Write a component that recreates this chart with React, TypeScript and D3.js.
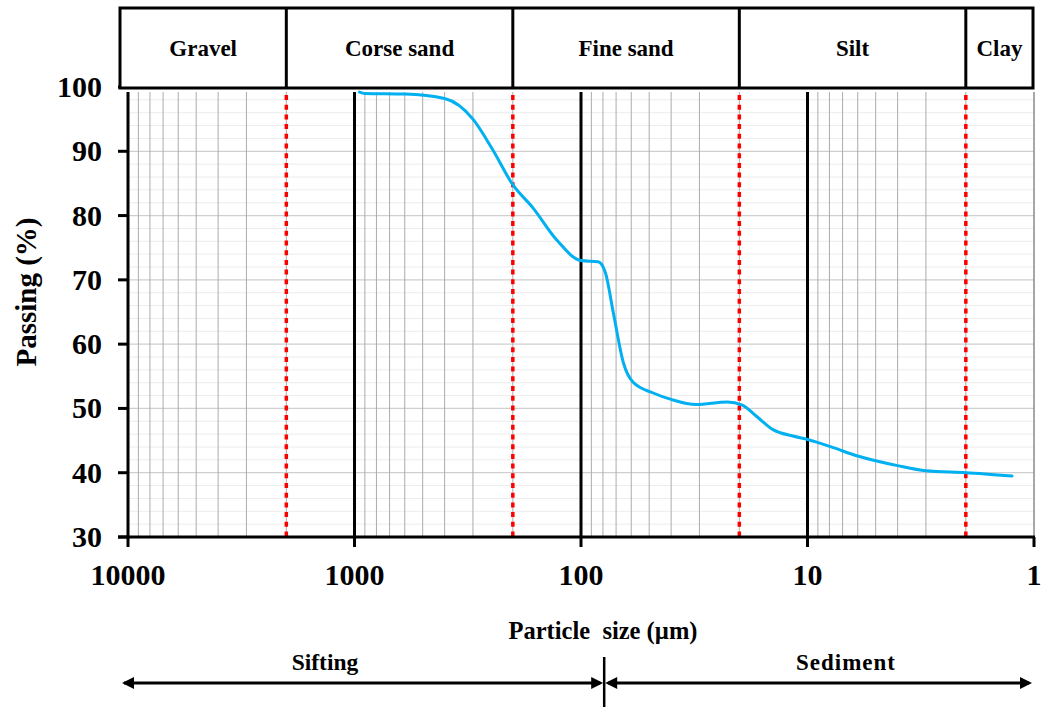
import React from "react";
import * as d3 from "d3";

// ---- data ----
const particleSize = [950, 900, 600, 400, 300, 245, 200, 163, 128, 100, 84, 78, 72, 65, 59, 48, 40, 31, 22.6, 19.4, 16.7, 14.2, 11.6, 9.8, 7.7, 6.0, 4.0, 3.0, 2.0, 1.25];
const passing = [99.2, 99.0, 98.9, 98.2, 95.0, 90.2, 84.8, 81.2, 76.2, 73.0, 72.8, 71.1, 64.9, 57.1, 54.1, 52.4, 51.4, 50.6, 51.0, 50.5, 48.7, 46.7, 45.7, 45.1, 43.9, 42.6, 41.1, 40.3, 40.0, 39.5];

const xTicks = [10000, 1000, 100, 10, 1];
const yTicks = [30, 40, 50, 60, 70, 80, 90, 100];
const classBounds = [10000, 2000, 200, 20, 2, 1];
const classNames = ["Gravel", "Corse sand", "Fine sand", "Silt", "Clay"];
const methodSplit = 79; // µm, sifting / sediment boundary
const methodNames = ["Sifting", "Sediment"];

const W = 1043;
const H = 707;
const FONT = "Liberation Serif, Times New Roman, Times, serif";

export default function App() {
  const x = d3.scaleLog().domain([10000, 1]).range([128, 1034]);
  const y = d3.scaleLinear().domain([30, 100]).range([537, 87]);
  const plotTop = 92;
  const x0 = x(10000);
  const x1 = x(1);
  const y0 = y(30);

  const minorX: number[] = [];
  for (let k = 0; k <= 3; k++) for (let m = 2; m <= 9; m++) minorX.push(m * Math.pow(10, k));
  const minorY: number[] = [];
  for (let v = 32; v < 100; v += 2) if (v % 10 !== 0) minorY.push(v);

  const pts = particleSize.map((d, i) => [x(d), y(passing[i])] as [number, number]);
  const line = d3.line().curve(d3.curveMonotoneX)(pts) || "";

  const boxTop = 8;
  const boxBot = 88;
  const boxLeft = 120;
  const boxRight = 1033;
  const divX = classBounds.slice(1, -1).map((v) => x(v));
  const edges = [boxLeft, ...divX, boxRight];

  const arrowY = 683;
  const splitX = x(methodSplit);
  const ah = 12;
  const aw = 6;
  const head = (tipX: number, dir: number) =>
    `M${tipX},${arrowY} L${tipX - dir * ah},${arrowY - aw} L${tipX - dir * ah},${arrowY + aw} Z`;

  return (
    <svg width={W} height={H} style={{ display: "block", position: "absolute", left: 0, top: 0 }}>
      <rect x={0} y={0} width={W} height={H} fill="#fff" />
      {/* horizontal grid */}
      {minorY.map((v) => (
        <line key={"my" + v} x1={x0} x2={x1} y1={y(v)} y2={y(v)} stroke="#ececec" strokeWidth={1} />
      ))}
      {yTicks.map((v) => (
        <line key={"gy" + v} x1={x0} x2={x1} y1={y(v)} y2={y(v)} stroke="#cfcfcf" strokeWidth={1.2} />
      ))}
      {/* vertical minor grid */}
      {minorX.map((v) => (
        <line key={"mx" + v} x1={x(v)} x2={x(v)} y1={plotTop} y2={y0} stroke="#ababab" strokeWidth={1} />
      ))}
      {/* major vertical */}
      {[1000, 100, 10].map((v) => (
        <line key={"gx" + v} x1={x(v)} x2={x(v)} y1={plotTop} y2={y0} stroke="#000" strokeWidth={3} />
      ))}
      <line x1={x1} x2={x1} y1={plotTop} y2={y0} stroke="#8a8a8a" strokeWidth={1.5} />
      {/* red dotted class boundaries */}
      {classBounds.slice(1, -1).map((v) => (
        <line key={"rd" + v} x1={x(v)} x2={x(v)} y1={95} y2={y0} stroke="#ff0000" strokeWidth={3.5} strokeDasharray="5,4.7" />
      ))}
      {/* curve */}
      <path d={line} fill="none" stroke="#00b0f0" strokeWidth={3} strokeLinecap="round" />
      {/* axes */}
      <line x1={x0} x2={x0} y1={plotTop} y2={y0 + 1.5} stroke="#000" strokeWidth={3} />
      <line x1={118} x2={x1 + 1} y1={y0} y2={y0} stroke="#000" strokeWidth={3} />
      {yTicks.map((v) => (
        <g key={"yt" + v}>
          <line x1={118} x2={x0} y1={y(v)} y2={y(v)} stroke="#000" strokeWidth={3} />
          <text x={102} y={y(v) + 10} textAnchor="end" fontFamily={FONT} fontWeight="bold" fontSize={30} fill="#000">
            {v}
          </text>
        </g>
      ))}
      {xTicks.map((v) => (
        <g key={"xt" + v}>
          <line x1={x(v)} x2={x(v)} y1={y0} y2={y0 + 10} stroke="#000" strokeWidth={3} />
          <text x={x(v)} y={585} textAnchor="middle" fontFamily={FONT} fontWeight="bold" fontSize={30} fill="#000">
            {d3.format("d")(v)}
          </text>
        </g>
      ))}
      {/* axis titles */}
      <text
        transform={`translate(36,292) rotate(-90)`}
        textAnchor="middle"
        fontFamily={FONT}
        fontWeight="bold"
        fontSize={29}
        fill="#000"
      >
        Passing (%)
      </text>
      <text x={603} y={639} textAnchor="middle" fontFamily={FONT} fontWeight="bold" fontSize={24.5} fill="#000" style={{ whiteSpace: "pre" }}>
        {"Particle  size (µm)"}
      </text>
      {/* class box */}
      <rect x={boxLeft} y={boxTop} width={boxRight - boxLeft} height={boxBot - boxTop} fill="#fff" stroke="#000" strokeWidth={3} />
      {divX.map((dx, i) => (
        <line key={"dv" + i} x1={dx} x2={dx} y1={boxTop} y2={boxBot} stroke="#000" strokeWidth={3} />
      ))}
      {classNames.map((n, i) => (
        <text
          key={n}
          x={(edges[i] + edges[i + 1]) / 2}
          y={56}
          textAnchor="middle"
          fontFamily={FONT}
          fontWeight="bold"
          fontSize={23}
          fill="#000"
        >
          {n}
        </text>
      ))}
      {/* method arrows */}
      <line x1={boxLeft + 4} x2={splitX - 4} y1={arrowY} y2={arrowY} stroke="#000" strokeWidth={3} />
      <line x1={splitX + 4} x2={boxRight - 4} y1={arrowY} y2={arrowY} stroke="#000" strokeWidth={3} />
      <path d={head(boxLeft + 2, -1)} fill="#000" />
      <path d={head(splitX - 1, 1)} fill="#000" />
      <path d={head(splitX + 1, -1)} fill="#000" />
      <path d={head(boxRight - 1, 1)} fill="#000" />
      <line x1={splitX} x2={splitX} y1={657} y2={707} stroke="#000" strokeWidth={2.5} />
      <text x={325} y={670} textAnchor="middle" fontFamily={FONT} fontWeight="bold" fontSize={23.5} fill="#000">
        {methodNames[0]}
      </text>
      <text x={846} y={670} textAnchor="middle" fontFamily={FONT} fontWeight="bold" fontSize={23} fill="#000" letterSpacing={1}>
        {methodNames[1]}
      </text>
    </svg>
  );
}
